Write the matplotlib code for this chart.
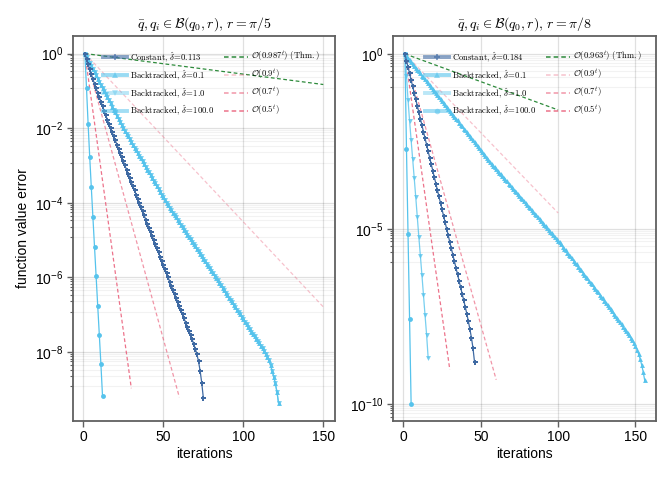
import numpy as np
import matplotlib
matplotlib.use("Agg")
import matplotlib.pyplot as plt
from matplotlib.lines import Line2D
from matplotlib.font_manager import FontProperties
from matplotlib.ticker import FixedLocator, LogFormatterSciNotation, NullFormatter

plt.rcParams['font.family'] = ['Liberation Sans', 'DejaVu Sans']
plt.rcParams['mathtext.fontset'] = 'custom'
plt.rcParams['mathtext.rm'] = 'Liberation Sans'
plt.rcParams['mathtext.it'] = 'Liberation Sans:italic'
plt.rcParams['mathtext.bf'] = 'Liberation Sans:bold'
plt.rcParams['font.size'] = 10

# ---- data: log10 of the function value error, one value per iteration (starting at 1) ----
left_const_log = [
    0.00, -0.15, -0.29, -0.42, -0.55, -0.68, -0.81, -0.93, -1.05, -1.17,
    -1.29, -1.41, -1.53, -1.65, -1.77, -1.88, -2.00, -2.11, -2.22, -2.33,
    -2.44, -2.56, -2.67, -2.78, -2.89, -3.00, -3.11, -3.22, -3.33, -3.45,
    -3.56, -3.67, -3.78, -3.89, -4.00, -4.11, -4.22, -4.33, -4.45, -4.56,
    -4.67, -4.78, -4.89, -5.00, -5.11, -5.22, -5.33, -5.45, -5.56, -5.67,
    -5.78, -5.89, -6.00, -6.11, -6.22, -6.33, -6.44, -6.55, -6.66, -6.77,
    -6.88, -6.99, -7.10, -7.21, -7.32, -7.43, -7.54, -7.66, -7.78, -7.91,
    -8.06, -8.25, -8.50, -8.82, -9.22]
left_bt01_log = [
    0.00, -0.08, -0.17, -0.25, -0.33, -0.42, -0.50, -0.58, -0.67, -0.75,
    -0.83, -0.92, -1.00, -1.08, -1.17, -1.25, -1.33, -1.42, -1.50, -1.58,
    -1.67, -1.75, -1.83, -1.92, -2.00, -2.07, -2.15, -2.22, -2.30, -2.37,
    -2.44, -2.52, -2.59, -2.67, -2.74, -2.81, -2.89, -2.96, -3.04, -3.11,
    -3.18, -3.26, -3.33, -3.41, -3.48, -3.55, -3.63, -3.70, -3.78, -3.85,
    -3.92, -4.00, -4.07, -4.13, -4.20, -4.26, -4.33, -4.39, -4.46, -4.52,
    -4.59, -4.65, -4.72, -4.78, -4.85, -4.91, -4.98, -5.04, -5.11, -5.17,
    -5.24, -5.30, -5.37, -5.43, -5.50, -5.56, -5.63, -5.69, -5.76, -5.82,
    -5.89, -5.95, -6.02, -6.08, -6.15, -6.21, -6.28, -6.34, -6.41, -6.47,
    -6.54, -6.60, -6.67, -6.73, -6.80, -6.86, -6.93, -6.99, -7.06, -7.12,
    -7.19, -7.25, -7.32, -7.38, -7.45, -7.51, -7.58, -7.64, -7.71, -7.77,
    -7.84, -7.90, -7.97, -8.04, -8.12, -8.22, -8.35, -8.50, -8.66, -8.84,
    -9.06, -9.36]
left_bt1_log = list(left_bt01_log)  # lies under the delta=0.1 curve
left_bt100_log = [0.00, -0.93, -1.89, -2.77, -3.59, -4.39, -5.18, -5.97,
                  -6.76, -7.54, -8.33, -9.18]

right_const_log = [
    0.00, -0.19, -0.37, -0.56, -0.74, -0.93, -1.11, -1.30, -1.48, -1.67,
    -1.85, -2.04, -2.22, -2.41, -2.59, -2.78, -2.96, -3.15, -3.33, -3.52,
    -3.70, -3.89, -4.07, -4.26, -4.44, -4.63, -4.81, -5.00, -5.18, -5.37,
    -5.55, -5.74, -5.92, -6.11, -6.29, -6.48, -6.66, -6.85, -7.03, -7.22,
    -7.42, -7.63, -7.86, -8.10, -8.40, -8.80]
right_bt01_log = [
    0.00, -0.06, -0.11, -0.17, -0.22, -0.28, -0.34, -0.39, -0.45, -0.50,
    -0.56, -0.62, -0.67, -0.73, -0.78, -0.84, -0.90, -0.95, -1.01, -1.06,
    -1.12, -1.18, -1.23, -1.29, -1.34, -1.40, -1.46, -1.51, -1.57, -1.62,
    -1.68, -1.74, -1.79, -1.85, -1.90, -1.96, -2.02, -2.07, -2.13, -2.18,
    -2.24, -2.30, -2.35, -2.41, -2.46, -2.52, -2.58, -2.63, -2.69, -2.74,
    -2.80, -2.86, -2.91, -2.97, -3.02, -3.08, -3.14, -3.19, -3.24, -3.29,
    -3.34, -3.39, -3.44, -3.49, -3.54, -3.59, -3.64, -3.70, -3.75, -3.80,
    -3.85, -3.90, -3.95, -4.00, -4.05, -4.10, -4.15, -4.20, -4.26, -4.31,
    -4.36, -4.41, -4.46, -4.51, -4.56, -4.61, -4.66, -4.71, -4.76, -4.82,
    -4.87, -4.92, -4.97, -5.02, -5.07, -5.12, -5.17, -5.22, -5.27, -5.33,
    -5.38, -5.44, -5.50, -5.56, -5.61, -5.67, -5.73, -5.78, -5.84, -5.90,
    -5.96, -6.01, -6.07, -6.13, -6.18, -6.24, -6.30, -6.36, -6.41, -6.47,
    -6.53, -6.58, -6.64, -6.70, -6.76, -6.81, -6.87, -6.93, -6.98, -7.04,
    -7.10, -7.17, -7.23, -7.29, -7.35, -7.41, -7.48, -7.54, -7.60, -7.66,
    -7.72, -7.79, -7.85, -7.91, -7.97, -8.03, -8.10, -8.17, -8.25, -8.34,
    -8.44, -8.56, -8.70, -8.87, -9.07, -9.32]
right_bt1_log = [0.00, -0.63, -1.31, -1.91, -2.46, -3.00, -3.54, -4.09,
                 -4.66, -5.23, -5.77, -6.32, -6.89, -7.46, -8.01, -8.67]
right_bt100_log = [0.00, -2.71, -5.14, -7.56, -9.98]

# reference rates: start (iteration 1, value 1) and end point
left_ref_rates = ["0.987", "0.9", "0.7", "0.5"]
left_ref_end_iter = [150, 150, 60, 30]
left_ref_end_log = [-0.83, -6.79, -9.21, -8.97]
right_ref_rates = ["0.963", "0.9", "0.7", "0.5"]
right_ref_end_iter = [100, 100, 60, 30]
right_ref_end_log = [-1.60, -4.54, -9.30, -9.01]

left_deltas = ["0.113", "0.1", "1.0", "100.0"]
right_deltas = ["0.184", "0.1", "1.0", "100.0"]
titles = [r"$\bar{q}, q_i \in \mathcal{B}(q_0, r),\, r = \pi/5$",
          r"$\bar{q}, q_i \in \mathcal{B}(q_0, r),\, r = \pi/8$"]

# ---- styles ----
c_const = '#3f6aa3'
c_bt = '#56c3ec'
c_green = '#2e8b3c'
c_red = '#e8506e'
ref_alphas = [1.0, 0.35, 0.6, 0.8]
frame_col = '#606060'


def makie_minor(majors):
    out = []
    for a, b in zip(majors[:-1], majors[1:]):
        lo, hi = min(a, b), max(a, b)
        out += [lo + k * (hi - lo) / 9 for k in range(1, 9)]
    return out


fig = plt.figure(figsize=(6.72, 4.8), dpi=100)
ax_l = fig.add_axes([0.1091, 0.1235, 0.3894, 0.8015])
ax_r = fig.add_axes([0.5853, 0.1235, 0.3909, 0.8015])

panels = [
    (ax_l, left_const_log, left_bt01_log, left_bt1_log, left_bt100_log,
     left_ref_rates, left_ref_end_iter, left_ref_end_log, left_deltas,
     [10.0 ** e for e in range(2, -12, -2)], (-6.25, 157.3), (-9.84, 0.47), 0.113),
    (ax_r, right_const_log, right_bt01_log, right_bt1_log, right_bt100_log,
     right_ref_rates, right_ref_end_iter, right_ref_end_log, right_deltas,
     [10.0 ** e for e in range(5, -20, -5)], (-6.5, 163.3), (-10.47, 0.51), 0.121),
]

for i, (ax, cst, b01, b1, b100, rates, ref_it, ref_log, deltas, majors, xl, yl, lx) in enumerate(panels):
    # reference rates
    for j, (rate, it_end, lg_end) in enumerate(zip(rates, ref_it, ref_log)):
        col = c_green if j == 0 else c_red
        ax.plot([1, it_end], [1.0, 10.0 ** lg_end], ls=(0, (3, 2)), lw=0.9,
                color=col, alpha=ref_alphas[j], zorder=2)
    # algorithms
    ax.plot(np.arange(1, len(cst) + 1), 10.0 ** np.array(cst), color=c_const,
            lw=0.9, marker='P', ms=3.6, mew=0, zorder=4)
    ax.plot(np.arange(1, len(b1) + 1), 10.0 ** np.array(b1), color=c_bt,
            lw=0.9, alpha=0.8, marker='v', ms=3.5, mew=0, zorder=3)
    ax.plot(np.arange(1, len(b01) + 1), 10.0 ** np.array(b01), color=c_bt,
            lw=0.9, marker='^', ms=3.5, mew=0, zorder=3)
    ax.plot(np.arange(1, len(b100) + 1), 10.0 ** np.array(b100), color=c_bt,
            lw=0.9, marker='o', ms=3.5, mew=0, zorder=3)

    ax.set_yscale('log')
    ax.set_xlim(*xl)
    ax.set_ylim(10.0 ** yl[0], 10.0 ** yl[1])
    ax.set_xticks([0, 50, 100, 150])
    ax.yaxis.set_major_locator(FixedLocator(majors))
    ax.yaxis.set_minor_locator(FixedLocator(makie_minor(majors)))
    ax.yaxis.set_major_formatter(LogFormatterSciNotation())
    ax.yaxis.set_minor_formatter(NullFormatter())

    ax.grid(True, which='major', color='black', alpha=0.12, lw=0.9)
    ax.grid(True, which='minor', axis='y', color='black', alpha=0.05, lw=0.8)
    ax.set_axisbelow(True)
    for sp in ax.spines.values():
        sp.set_color(frame_col)
        sp.set_linewidth(1.3)
    ax.tick_params(which='major', direction='out', length=4, width=1,
                   color=frame_col, labelsize=10, pad=3)
    ax.tick_params(which='minor', direction='out', length=2.5, width=0.8,
                   color=frame_col)

    ax.set_xlabel("iterations", fontsize=10, labelpad=2)
    if i == 0:
        ax.set_ylabel("function value error", fontsize=10)
    ax.set_title(titles[i], fontsize=10, math_fontfamily='cm', pad=6)

    handles = [
        Line2D([], [], color=c_const, lw=2.8, alpha=0.6, marker='P', ms=4, mew=0),
        Line2D([], [], color=c_bt, lw=2.8, alpha=0.6, marker='^', ms=4, mew=0),
        Line2D([], [], color=c_bt, lw=2.8, alpha=0.4, marker='v', ms=4, mew=0),
        Line2D([], [], color=c_bt, lw=2.8, alpha=0.55, marker='o', ms=4, mew=0),
    ]
    labels = [r"$\mathrm{Constant},\, \hat{\delta}\!=\!" + deltas[0] + "$"]
    labels += [r"$\mathrm{Backtracked},\, \hat{\delta}\!=\!" + d + "$" for d in deltas[1:]]
    for j, rate in enumerate(rates):
        col = c_green if j == 0 else c_red
        handles.append(Line2D([], [], color=col, lw=1.1, ls=(0, (3, 2)),
                              alpha=ref_alphas[j]))
        if j == 0:
            labels.append(r"$\mathcal{O}(" + rate + r"^t)\ \mathrm{(Thm.)}$")
        else:
            labels.append(r"$\mathcal{O}(" + rate + r"^t)$")
    ax.legend(handles, labels, ncol=2, loc='upper left',
              bbox_to_anchor=(lx, 0.964), frameon=False,
              prop=FontProperties(size=6.2, math_fontfamily='cm'),
              handlelength=2.8, handletextpad=0.3, columnspacing=1.2,
              labelspacing=0.45, borderpad=0, borderaxespad=0)

fig.savefig("out.png", dpi=100)
